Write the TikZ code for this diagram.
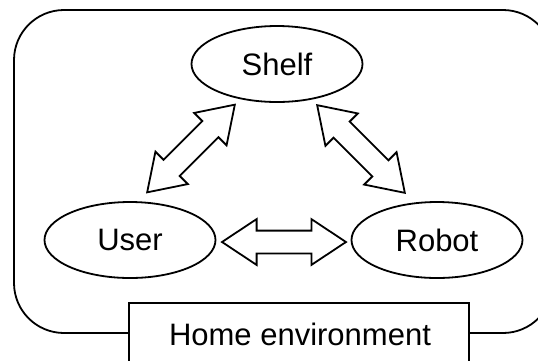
\documentclass[tikz,border=0pt]{standalone}
\usepackage{fontspec}
\setmainfont{Liberation Sans}
\usetikzlibrary{shapes.geometric,shapes.arrows}
\begin{document}
\begin{tikzpicture}[x=1pt,y=-1pt,
  every node/.style={font=\fontsize{31}{37}\selectfont},
  ent/.style={draw,line width=1.8pt,ellipse,minimum width=171pt,minimum height=76pt,inner sep=0pt},
  link/.style={draw,line width=1.8pt,fill=white,double arrow,minimum height=124pt,inner sep=10.5pt,
    double arrow head extend=11.5pt,double arrow tip angle=67,double arrow head indent=0pt},
  frame/.style={draw,line width=1.8pt,rounded corners=50pt},
  label/.style={draw,line width=1.8pt,fill=white}]
\useasboundingbox (0,0) rectangle (538,360);
\draw[frame] (14,10) rectangle (553,333);
\node[ent] (shelf) at (277,64) {Shelf};
\node[ent] (user) at (130,240) {User};
\node[ent] (robot) at (437,240) {Robot};
\node[link,rotate=45] (us) at (191,148.5) {};
\node[link,rotate=-45] (sr) at (361,149) {};
\node[link] (ur) at (284,242) {};
\draw[label] (129,303) rectangle (469,372);
\node[anchor=base,inner sep=0pt] (home) at (300,345) {Home environment};
\end{tikzpicture}
\end{document}
